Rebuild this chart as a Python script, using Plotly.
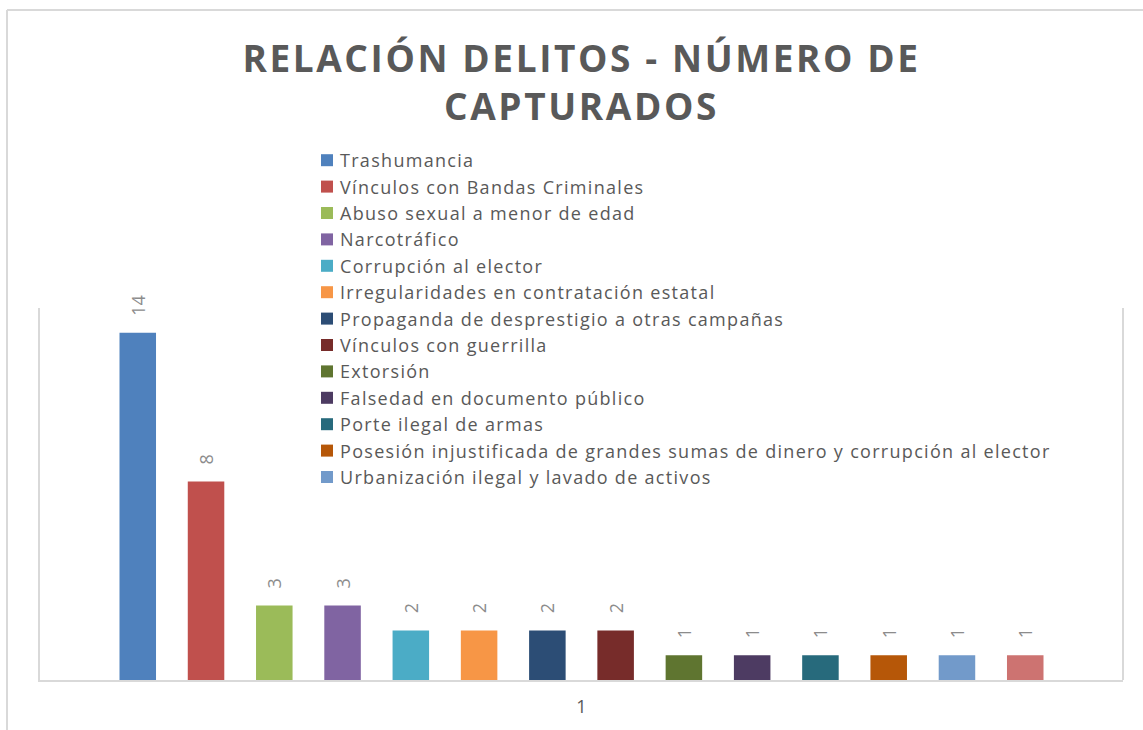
import plotly.graph_objects as go

categories = ["1"]
delitos = [
    "Trashumancia",
    "Vínculos con Bandas Criminales",
    "Abuso sexual a menor de edad",
    "Narcotráfico",
    "Corrupción al elector",
    "Irregularidades en contratación estatal",
    "Propaganda de desprestigio a otras campañas",
    "Vínculos con guerrilla",
    "Extorsión",
    "Falsedad en documento público",
    "Porte ilegal de armas",
    "Posesión injustificada de grandes sumas de dinero y corrupción al elector",
    "Urbanización ilegal y lavado de activos",
    "Otros",
]
capturados = [14, 8, 3, 3, 2, 2, 2, 2, 1, 1, 1, 1, 1, 1]
show_in_legend = [True] * 13 + [False]
colores = [
    "#4F81BD", "#C0504D", "#9BBB59", "#8064A2", "#4BACC6", "#F79646",
    "#2C4D75", "#772C2A", "#5F7530", "#4D3B62", "#276A7C", "#B65708",
    "#729ACA", "#CD7371",
]

FONT = "Open Sans"
GRAY = "#595959"
LINE = "#D9D9D9"

fig = go.Figure()
for name, val, col, sl in zip(delitos, capturados, colores, show_in_legend):
    fig.add_trace(go.Bar(
        name=name,
        x=categories,
        y=[val],
        marker=dict(color=col, line=dict(width=0)),
        text=["\u00a0\u00a0\u00a0" + str(val)],
        textposition="outside",
        textangle=-90,
        textfont=dict(family=FONT, size=18, color="#8C8C8C"),
        cliponaxis=False,
        showlegend=sl,
    ))

W, H = 1143, 730
L, R, T, B = 40, 20, 308, 50
pw = W - L - R
ph = H - T - B

def px_x(x):
    return (x - L) / pw

def px_y(y):
    return (H - B - y) / ph

shapes = [
    # outer chart border (top + left)
    dict(type="line", xref="paper", yref="paper", x0=px_x(7), x1=px_x(1145),
         y0=px_y(10), y1=px_y(10), line=dict(color=LINE, width=2)),
    dict(type="line", xref="paper", yref="paper", x0=px_x(7), x1=px_x(7),
         y0=px_y(10), y1=px_y(735), line=dict(color=LINE, width=2)),
    # right border of plot area
    dict(type="line", xref="paper", yref="paper", x0=1, x1=1,
         y0=0, y1=1, line=dict(color=LINE, width=2)),
]

fig.update_layout(
    width=W, height=H, autosize=False,
    margin=dict(l=L, r=R, t=T, b=B, autoexpand=False),
    paper_bgcolor="white", plot_bgcolor="white",
    barmode="group", bargap=0.1175, bargroupgap=0.465,
    title=dict(
        text="<b>RELACIÓN DELITOS - NÚMERO DE<br>CAPTURADOS</b>",
        font=dict(family=FONT, size=37, color=GRAY),
        x=0.5, xref="paper", xanchor="center",
        y=1 - 72 / H, yref="container", yanchor="top",
    ),
    legend=dict(
        x=px_x(300), y=px_y(142), xanchor="left", yanchor="top",
        font=dict(family=FONT, size=18, color=GRAY),
        bgcolor="rgba(0,0,0,0)", borderwidth=0,
        traceorder="normal",
    ),
    xaxis=dict(
        showline=True, linecolor=LINE, linewidth=2,
        showgrid=False, ticks="", ticklabelstandoff=9,
        tickfont=dict(family=FONT, size=18, color=GRAY),
        fixedrange=True, automargin=False,
    ),
    yaxis=dict(
        range=[0, 15], showline=True, linecolor=LINE, linewidth=2,
        showgrid=False, zeroline=False, showticklabels=False, ticks="",
        fixedrange=True, automargin=False,
    ),
    shapes=shapes,
)

post = """
document.body.style.margin = '0';
var gd = document.getElementById('{plot_id}');
gd.querySelectorAll('.gtitle').forEach(function(e){ e.style.letterSpacing = '2.6px'; });
gd.querySelectorAll('.legendtext').forEach(function(e){ e.style.letterSpacing = '1.3px'; });
gd.querySelectorAll('.legend [clip-path]').forEach(function(e){ e.removeAttribute('clip-path'); });
gd.querySelectorAll('.legend .legendsymbols').forEach(function(e){
  var t = e.getAttribute('transform') || '';
  e.setAttribute('transform', t + ' translate(7,0)');
});
"""

fig.write_html("out.html", post_script=post, config={"displayModeBar": False})
